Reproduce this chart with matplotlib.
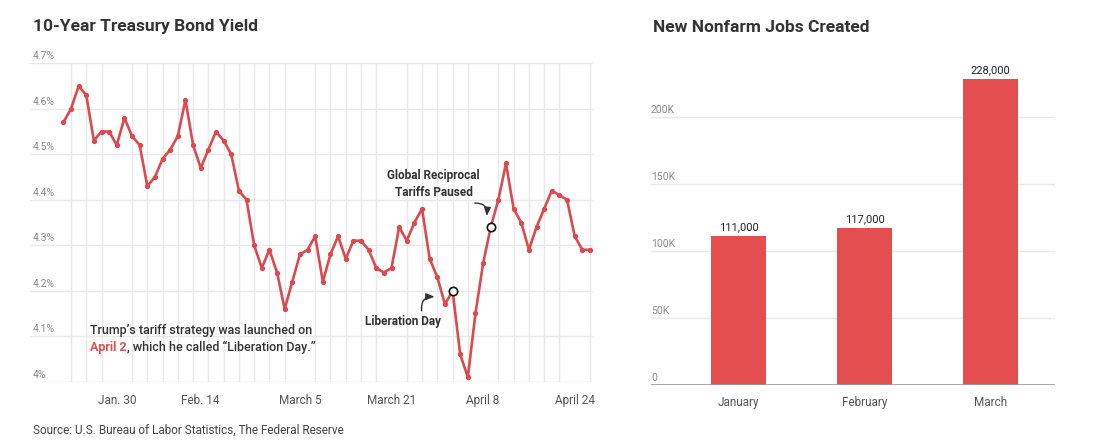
import numpy as np
import pandas as pd
import matplotlib
matplotlib.use('Agg')
from matplotlib import pyplot as plt
from matplotlib.transforms import offset_copy, blended_transform_factory

plt.rcParams['font.family'] = ['Roboto', 'DejaVu Sans']

# Data
# ----

# 10-year treasury yield, one value per business day
dates = pd.bdate_range('2025-01-21', '2025-04-28')
yields = [4.57, 4.60, 4.65, 4.63, 4.53, 4.55, 4.55, 4.52, 4.58, 4.54,
          4.52, 4.43, 4.45, 4.49, 4.51, 4.54, 4.62, 4.52, 4.47, 4.51,
          4.55, 4.53, 4.50, 4.42, 4.40, 4.30, 4.25, 4.29, 4.24, 4.16,
          4.22, 4.28, 4.29, 4.32, 4.22, 4.28, 4.32, 4.27, 4.31, 4.31,
          4.29, 4.25, 4.24, 4.25, 4.34, 4.31, 4.35, 4.38, 4.27, 4.23,
          4.17, 4.20, 4.06, 4.01, 4.15, 4.26, 4.34, 4.40, 4.48, 4.38,
          4.35, 4.29, 4.34, 4.38, 4.42, 4.41, 4.40, 4.32, 4.29, 4.29]
tick_dates = ['2025-01-30', '2025-02-14', '2025-03-05', '2025-03-21', '2025-04-08', '2025-04-24']
tick_labels = ['Jan. 30', 'Feb. 14', 'March 5', 'March 21', 'April 8', 'April 24']
yield_ticks = [4.0, 4.1, 4.2, 4.3, 4.4, 4.5, 4.6, 4.7]
liberation_day = '2025-04-02'
pause_day = '2025-04-09'

# Nonfarm payrolls
months = ['January', 'February', 'March']
jobs = [111000, 117000, 228000]
jobs_ticks = [0, 50000, 100000, 150000, 200000]

RED_LINE = '#dc4a4f'
RED_BAR = '#e54e4f'
DARK = '#333333'
GRID = '#e9e9e9'
TICK = '#8a8a8a'

W, H = 1100, 444
fig = plt.figure(figsize=(W / 100, H / 100), dpi=100)


def box(x0, y0, x1, y1):
    # pixel box (top-left origin) -> figure fraction rect
    return [x0 / W, 1 - y1 / H, (x1 - x0) / W, (y1 - y0) / H]


# Treasury yield line chart
# -------------------------

ax = fig.add_axes(box(30, 63.3, 593, 381.7))
x = np.arange(len(dates))
ax.set_xlim(-4.37, 69.4)
ax.set_ylim(4.0, 4.7)
for s in ax.spines.values():
    s.set_visible(False)

ax.plot(x, yields, color=RED_LINE, lw=1.9, marker='o', ms=2.8, zorder=3, clip_on=False)

for d in [liberation_day, pause_day]:
    i = dates.get_loc(pd.Timestamp(d))
    ax.plot(i, yields[i], 'o', mfc='white', mec='#111111', ms=6, mew=1.2, zorder=4, clip_on=False)

ax.set_xticks(dates.get_indexer(pd.to_datetime(tick_dates)), tick_labels)
ax.set_xticks(x[1::2], minor=True)
ax.set_yticks(yield_ticks, [])
ax.tick_params(which='both', length=0)
ax.tick_params(axis='x', pad=9, labelsize=8.5, labelcolor='#555555')
ax.grid(which='minor', axis='x', color=GRID, lw=1)
ax.grid(which='major', axis='y', color=GRID, lw=1)
ax.set_axisbelow(True)

ylab_tr = offset_copy(blended_transform_factory(ax.transAxes, ax.transData), fig=fig, x=0, y=2, units='dots')
for v in yield_ticks:
    ax.text(0.005, v, f'{v:g}%', transform=ylab_tr, va='bottom', ha='left', fontsize=7.5, color=TICK)


def curved_arrow(i, v, tail, head, rad):
    ax.annotate('', xy=(i, v), xytext=(i, v),
                xycoords=offset_copy(ax.transData, fig=fig, x=head[0], y=head[1], units='dots'),
                textcoords=offset_copy(ax.transData, fig=fig, x=tail[0], y=tail[1], units='dots'),
                arrowprops=dict(arrowstyle='-|>,head_length=0.5,head_width=0.2', color=DARK, lw=1,
                                connectionstyle=f'arc3,rad={rad}', shrinkA=0, shrinkB=0))


i_lib = dates.get_loc(pd.Timestamp(liberation_day))
curved_arrow(i_lib, yields[i_lib], (-31, -20), (-18, -6), -0.55)
ax.annotate('Liberation Day', xy=(i_lib, yields[i_lib]), xytext=(-50, -31), textcoords='offset pixels',
            ha='center', va='center', fontsize=8.5, fontweight='bold', color=DARK)

i_pause = dates.get_loc(pd.Timestamp(pause_day))
curved_arrow(i_pause, yields[i_pause], (-16, 24), (-4, 11), -0.55)
ax.annotate('Global Reciprocal\nTariffs Paused', xy=(i_pause, yields[i_pause]), xytext=(-57, 43),
            textcoords='offset pixels', ha='center', va='center', fontsize=8.5, fontweight='bold',
            color=DARK, linespacing=1.45)

fig.text(90 / W, 1 - 330.7 / H, 'Trump\u2019s tariff strategy was launched on', fontsize=9,
         color=DARK, va='center', fontweight='medium')
t2 = fig.text(90 / W, 1 - 347.7 / H, 'April 2', fontsize=9, color=RED_BAR, va='center', fontweight='bold')
ax.annotate(', which he called \u201cLiberation Day.\u201d', xy=(1, 0.5), xycoords=t2, va='center', ha='left',
            fontsize=9, color=DARK, fontweight='medium', annotation_clip=False)

# Nonfarm jobs bar chart
# ----------------------

bx = fig.add_axes(box(651, 63, 1055, 385))
bx.set_xlim(-0.694, 2.512)
bx.set_ylim(0, 240300)
for s in bx.spines.values():
    s.set_visible(False)

bars = bx.bar(np.arange(len(months)), jobs, width=0.437, color=RED_BAR, zorder=2)
bx.bar_label(bars, labels=[f'{v:,}' for v in jobs], padding=3, fontsize=8, color='#222222')
bx.axhline(0, color='#9a9a9a', lw=1.2, zorder=3)

bx.set_xticks(np.arange(len(months)), months)
bx.set_yticks(jobs_ticks, [])
bx.tick_params(length=0)
bx.tick_params(axis='x', pad=8, labelsize=8.5, labelcolor='#555555')
bx.grid(axis='y', color=GRID, lw=1)
bx.set_axisbelow(True)

blab_tr = offset_copy(blended_transform_factory(bx.transAxes, bx.transData), fig=fig, x=0, y=2, units='dots')
for v in jobs_ticks:
    bx.text(0.0, v, f'{v // 1000}K' if v else '0', transform=blab_tr, va='bottom', ha='left',
            fontsize=7.5, color=TICK)

# Titles and source
# -----------------

fig.text(33 / W, 1 - 27 / H, '10-Year Treasury Bond Yield', fontsize=12.5, fontweight='bold', color=DARK, va='center')
fig.text(653 / W, 1 - 27 / H, 'New Nonfarm Jobs Created', fontsize=12.5, fontweight='bold', color=DARK, va='center')
fig.text(33 / W, 1 - 430 / H, 'Source: U.S. Bureau of Labor Statistics, The Federal Reserve', fontsize=8.5,
         color='#444444', va='center')

fig.savefig('out.png', dpi=100)
